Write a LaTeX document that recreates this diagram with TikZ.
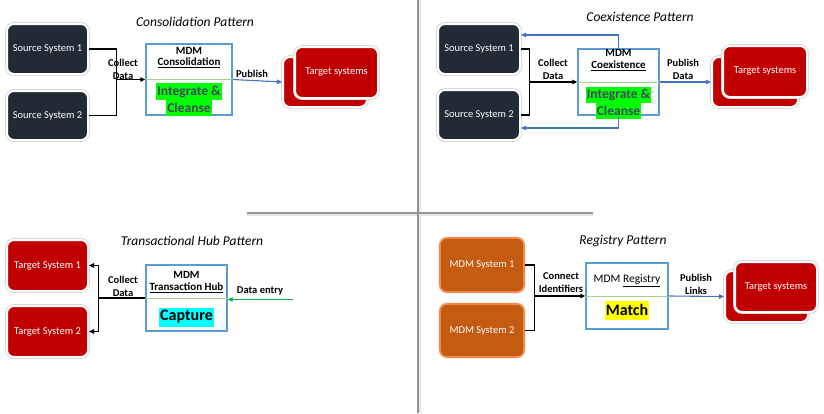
\documentclass[tikz,border=0pt]{standalone}
\usepackage{fontspec}
\setmainfont{Carlito}
\usetikzlibrary{arrows.meta}

\definecolor{darkbox}{HTML}{222A35}
\definecolor{redbox}{HTML}{C00000}
\definecolor{orangebox}{HTML}{C55A11}
\definecolor{orangeedge}{HTML}{F08A45}
\definecolor{mdmblue}{HTML}{5B9BD5}
\definecolor{divgreen}{HTML}{A9D18E}
\definecolor{linkblue}{HTML}{4472C4}
\definecolor{entrygreen}{HTML}{00B050}
\definecolor{hlgreen}{HTML}{00FF00}
\definecolor{hlcyan}{HTML}{00FFFF}
\definecolor{hlyellow}{HTML}{FFFF00}
\definecolor{slatetext}{HTML}{464660}

\tikzset{
  sysbox/.style={rounded corners=7pt, text=white, inner sep=0pt,
    font=\fontsize{10.5}{12}\selectfont,
    preaction={draw=black!16, line width=3.8pt},
    draw=white, line width=2pt},
  darksys/.style={sysbox, fill=darkbox},
  redsys/.style={sysbox, fill=redbox},
  orangesys/.style={rounded corners=7pt, text=white, inner sep=0pt,
    font=\fontsize{10.5}{12}\selectfont,
    preaction={draw=black!10, line width=3.4pt},
    draw=orangeedge, line width=1.6pt, fill=orangebox},
  mdmbox/.style={draw=mdmblue, line width=1.4pt, fill=white, inner sep=0pt},
  divline/.style={draw=divgreen, line width=0.9pt},
  mdmlabel/.style={font=\bfseries\fontsize{11}{12}\selectfont, inner sep=0pt},
  flowlabel/.style={font=\bfseries\fontsize{10.5}{13}\selectfont, align=center, inner sep=0pt},
  patterntitle/.style={font=\itshape\fontsize{13.5}{15}\selectfont, inner sep=0pt},
  hilite/.style={font=\bfseries\fontsize{13.5}{15}\selectfont, text=slatetext,
    inner xsep=1pt, inner ysep=0pt, minimum height=16.5pt},
  bigword/.style={font=\bfseries\fontsize{16}{17}\selectfont, text=black,
    inner xsep=1pt, inner ysep=0pt, minimum height=19pt},
  blackflow/.style={draw=black, line width=1.3pt},
  blackarrow/.style={blackflow, -{Triangle[length=5pt,width=4.5pt]}},
  bluearrow/.style={draw=linkblue, line width=1.1pt, -{Triangle[length=5pt,width=4.5pt]}},
  greenarrow/.style={draw=entrygreen, line width=1.1pt, -{Triangle[length=5pt,width=4.5pt]}},
  sepline/.style={draw=black!42, line width=1.2pt},
  sepshadow/.style={draw=black!10, line width=2.4pt}
}

\begin{document}
\begin{tikzpicture}[x=1pt, y=-1pt]
\useasboundingbox (0,0) rectangle (824,413);

% quadrant separators
\draw[sepshadow] (419.5,0) -- (419.5,413);
\draw[sepshadow] (247,214.8) -- (593,214.8);
\draw[sepline] (418,0) -- (418,413);
\draw[sepline] (247,213) -- (593,213);

% ---------------- Consolidation ----------------
\node[patterntitle] (tcons) at (195,22) {Consolidation Pattern};
\node[darksys, minimum width=81pt, minimum height=50pt] (ss1c) at (47.5,49) {Source System 1};
\node[darksys, minimum width=81pt, minimum height=49pt] (ss2c) at (47.5,115.5) {Source System 2};
\node[mdmbox, minimum width=86pt, minimum height=71pt] (mdmc) at (189,79.5) {};
\draw[divline] (mdmc.west) -- (mdmc.east);
\node[mdmlabel] (mdmc1) at (189,51) {MDM};
\node[mdmlabel] (mdmc2) at (189,63) {\underline{Consolidation}};
\node[hilite, fill=hlgreen] (intc1) at (189,91.5) {Integrate \&};
\node[hilite, fill=hlgreen] (intc2) at (189,108) {Cleanse};
\coordinate (jc) at ([xshift=-29pt]mdmc.west);
\draw[blackflow] (ss1c.east) -| (jc) |- (ss2c.east);
\draw[blackarrow] (jc) -- (mdmc.west);
\node[flowlabel] (lc1) at (123,69) {Collect\\Data};
\node[redsys, minimum width=84pt, minimum height=50pt] (tgc2) at (325,82) {};
\node[redsys, minimum width=83pt, minimum height=51pt] (tgc1) at (336.5,72.5) {Target systems};
\draw[bluearrow] (mdmc.east) -- (tgc2.west);
\node[flowlabel] (lc2) at (252,74) {Publish};

% ---------------- Coexistence ----------------
\node[patterntitle] (tcoex) at (640,17) {Coexistence Pattern};
\node[darksys, minimum width=82pt, minimum height=50pt] (ss1x) at (479,49) {Source System 1};
\node[darksys, minimum width=82pt, minimum height=50pt] (ss2x) at (479,115) {Source System 2};
\node[mdmbox, minimum width=81pt, minimum height=66pt] (mdmx) at (618.5,82) {};
\draw[divline] (mdmx.west) -- (mdmx.east);
\node[mdmlabel] (mdmx1) at (618.5,53) {MDM};
\node[mdmlabel] (mdmx2) at (618.5,66) {\underline{Coexistence}};
\node[hilite, fill=hlgreen] (intx1) at (618.5,95) {Integrate \&};
\node[hilite, fill=hlgreen] (intx2) at (618.5,110.5) {Cleanse};
\coordinate (jx) at ([xshift=-48pt]mdmx.west);
\draw[blackflow] (ss1x.east) -| (jx) |- (ss2x.east);
\draw[blackarrow] (jx) -- (mdmx.west);
\node[flowlabel] (lx1) at (553,69) {Collect\\Data};
\draw[bluearrow] (mdmx.north) |- ([yshift=14pt]ss1x.east);
\draw[bluearrow] (mdmx.south) |- ([yshift=-13pt]ss2x.east);
\node[redsys, minimum width=86pt, minimum height=50pt] (tgx2) at (755,82) {};
\node[redsys, minimum width=84pt, minimum height=51pt] (tgx1) at (765,71.5) {Target systems};
\draw[bluearrow] (mdmx.east) -- (tgx2.west);
\node[flowlabel] (lx2) at (683,69) {Publish\\Data};

% ---------------- Transactional Hub ----------------
\node[patterntitle] (ttrans) at (192,241) {Transactional Hub Pattern};
\node[redsys, minimum width=81pt, minimum height=51pt] (tt1) at (47.5,265.5) {Target System 1};
\node[redsys, minimum width=81pt, minimum height=51pt] (tt2) at (47.5,331.5) {Target System 2};
\node[mdmbox, minimum width=81pt, minimum height=66pt] (mdmt) at (186.5,298) {};
\draw[divline] (mdmt.west) -- (mdmt.east);
\node[mdmlabel] (mdmt1) at (186.5,275) {MDM};
\node[mdmlabel] (mdmt2) at (186.5,287.5) {\underline{Transaction Hub}};
\node[bigword, fill=hlcyan] (capt) at (186.5,317) {Capture};
\coordinate (jt) at ([xshift=-46.5pt]mdmt.west);
\draw[blackflow] (mdmt.west) -- (jt);
\draw[blackarrow] (jt) |- (tt1.east);
\draw[blackarrow] (jt) |- (tt2.east);
\node[flowlabel] (lt1) at (123,286) {Collect\\Data};
\coordinate (dentry) at (293,299.5);
\draw[greenarrow] (dentry) -- ([yshift=-1.5pt]mdmt.east);
\node[flowlabel] (lt2) at (260,291) {Data entry};

% ---------------- Registry ----------------
\node[patterntitle] (treg) at (623,241) {Registry Pattern};
\node[orangesys, minimum width=84pt, minimum height=54pt] (ms1) at (482,265) {MDM System 1};
\node[orangesys, minimum width=84pt, minimum height=53pt] (ms2) at (482,330.5) {MDM System 2};
\node[mdmbox, minimum width=82pt, minimum height=66pt] (mdmr) at (627,296) {};
\draw[divline] (mdmr.west) -- (mdmr.east);
\node[mdmlabel, font=\fontsize{11.5}{12}\selectfont] (mdmr1) at (627,281) {MDM \underline{Registry}};
\node[bigword, fill=hlyellow] (match) at (627,310) {Match};
\coordinate (jr) at ([xshift=-51pt]mdmr.west);
\draw[blackflow] (ms1.east) -| (jr) |- (ms2.east);
\draw[blackarrow] (jr) -- (mdmr.west);
\node[flowlabel] (lr1) at (561,283) {Connect\\Identifiers};
\node[redsys, minimum width=83pt, minimum height=51pt] (tgr2) at (766.5,296.5) {};
\node[redsys, minimum width=82pt, minimum height=50pt] (tgr1) at (776,287) {Target systems};
\draw[bluearrow] (mdmr.east) -- (tgr2.west);
\node[flowlabel] (lr2) at (696,284) {Publish\\Links};
\end{tikzpicture}
\end{document}
